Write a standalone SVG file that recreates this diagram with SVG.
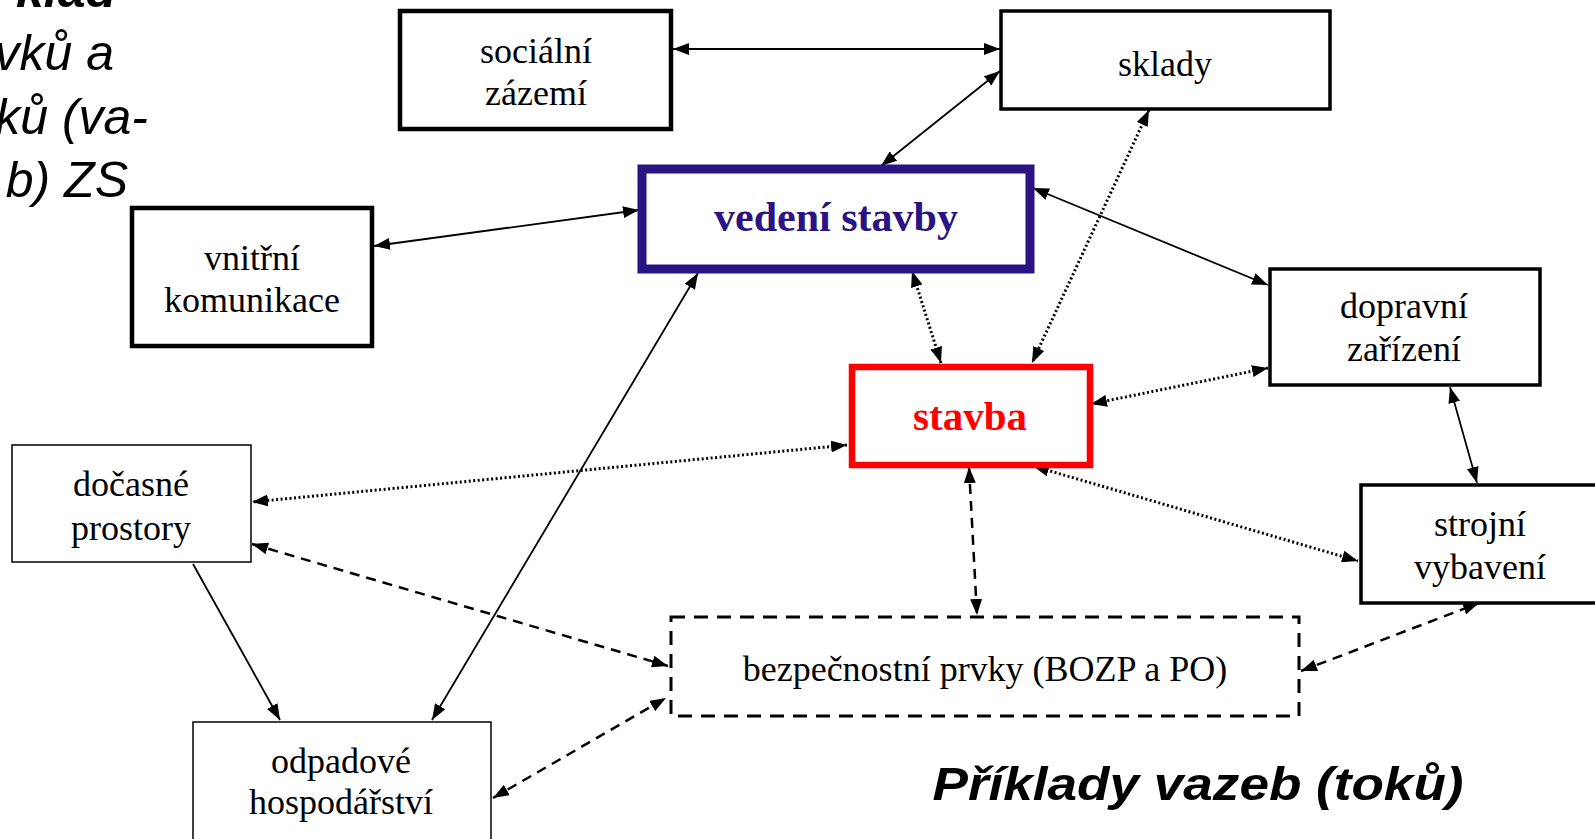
<svg xmlns="http://www.w3.org/2000/svg" width="1595" height="839" viewBox="0 0 1595 839">
<defs>
<marker id="ah" viewBox="0 0 16 12" refX="16" refY="6" markerWidth="16" markerHeight="12" markerUnits="userSpaceOnUse" orient="auto-start-reverse">
<path d="M0,0 L16,6 L0,12 z" fill="#000"/>
</marker>
</defs>
<style>
.box{fill:#fff;stroke:#000}
.navy{stroke:#2A1383}
.red{stroke:#f00}
.t{font-family:"Liberation Serif","Times New Roman",serif;font-size:36px;fill:#000;text-anchor:middle}
.tb{font-family:"Liberation Serif","Times New Roman",serif;font-weight:bold;text-anchor:middle}
.c{fill:none;stroke:#000;marker-start:url(#ah);marker-end:url(#ah)}
.solid{stroke-width:1.8}
.dot{stroke-width:3;stroke-dasharray:2 2.5}
.dash{stroke-width:2.5;stroke-dasharray:10 7}
.it{font-family:"Liberation Sans",Arial,sans-serif;font-style:italic;font-size:50px;fill:#000;text-anchor:end}
</style>
<rect width="1595" height="839" fill="#fff"/>
<g id="title-left">
<text class="it" x="116" y="7" font-weight="bold">klad</text>
<text class="it" x="114" y="70">vků a</text>
<text class="it" x="148" y="134">ků (va-</text>
<text class="it" x="128" y="197">b) ZS</text>
</g>
<g id="connectors">
<line class="c solid" x1="673" y1="49" x2="1000" y2="49"/>
<line class="c solid" x1="1000" y1="71" x2="881" y2="166"/>
<line class="c solid" x1="374" y1="246" x2="639" y2="210"/>
<line class="c solid" x1="1033" y1="188" x2="1268" y2="285"/>
<line class="c solid" x1="698" y1="273" x2="432" y2="720"/>
<line class="solid" stroke="#000" x1="193" y1="564" x2="280" y2="720" marker-end="url(#ah)"/>
<line class="c dot" x1="912" y1="271" x2="941" y2="363"/>
<line class="c dot" x1="1149" y1="110" x2="1032" y2="363"/>
<line class="c dot" x1="1268" y1="368" x2="1091" y2="404"/>
<line class="c solid" x1="1450" y1="387" x2="1477" y2="483"/>
<line class="c dot" x1="847" y1="445" x2="252" y2="502"/>
<line class="c dot" x1="1033" y1="466" x2="1358" y2="561"/>
<line class="c dash" x1="969" y1="467" x2="977" y2="615"/>
<line class="c dash" x1="252" y1="544" x2="668" y2="666"/>
<line class="c dash" x1="493" y1="798" x2="666" y2="698"/>
<line class="c dash" x1="1301" y1="671" x2="1479" y2="603"/>
</g>
<g id="socialni-zazemi">
<rect class="box" x="400" y="11" width="271" height="118" stroke-width="4.5"/>
<text class="t" x="536" y="63">sociální</text>
<text class="t" x="536" y="105">zázemí</text>
</g>
<g id="sklady">
<rect class="box" x="1001" y="11" width="329" height="98" stroke-width="3.5"/>
<text class="t" x="1165" y="76">sklady</text>
</g>
<g id="vedeni-stavby">
<rect class="box navy" x="642" y="169" width="388" height="100" stroke-width="9"/>
<text class="tb" x="836" y="231" font-size="42" fill="#2A1383">vedení stavby</text>
</g>
<g id="vnitrni-komunikace">
<rect class="box" x="132" y="208" width="240" height="138" stroke-width="4.5"/>
<text class="t" x="252" y="270">vnitřní</text>
<text class="t" x="252" y="312">komunikace</text>
</g>
<g id="dopravni-zarizeni">
<rect class="box" x="1270" y="269" width="270" height="116" stroke-width="3.5"/>
<text class="t" x="1404" y="318">dopravní</text>
<text class="t" x="1404" y="361">zařízení</text>
</g>
<g id="stavba">
<rect class="box red" x="852" y="367" width="238" height="98" stroke-width="6.5"/>
<text class="tb" x="970" y="430" font-size="41" fill="#f00">stavba</text>
</g>
<g id="docasne-prostory">
<rect class="box" x="12" y="445" width="239" height="117" stroke-width="1.5"/>
<text class="t" x="131" y="496">dočasné</text>
<text class="t" x="131" y="540">prostory</text>
</g>
<g id="strojni-vybaveni">
<rect class="box" x="1361" y="485" width="240" height="118" stroke-width="3.5"/>
<text class="t" x="1480" y="536">strojní</text>
<text class="t" x="1480" y="579">vybavení</text>
</g>
<g id="bezpecnostni-prvky">
<rect class="box" x="671" y="617" width="628" height="99" stroke-width="3" stroke-dasharray="14 9"/>
<text class="t" x="985" y="681">bezpečnostní prvky (BOZP a PO)</text>
</g>
<g id="odpadove-hospodarstvi">
<rect class="box" x="193" y="722" width="298" height="130" stroke-width="1.5"/>
<text class="t" x="341" y="773">odpadové</text>
<text class="t" x="341" y="814">hospodářství</text>
</g>
<text x="1198" y="800" font-family="'Liberation Sans',Arial,sans-serif" font-style="italic" font-weight="bold" font-size="46" text-anchor="middle" textLength="531" lengthAdjust="spacingAndGlyphs">Příklady vazeb (toků)</text>
</svg>
